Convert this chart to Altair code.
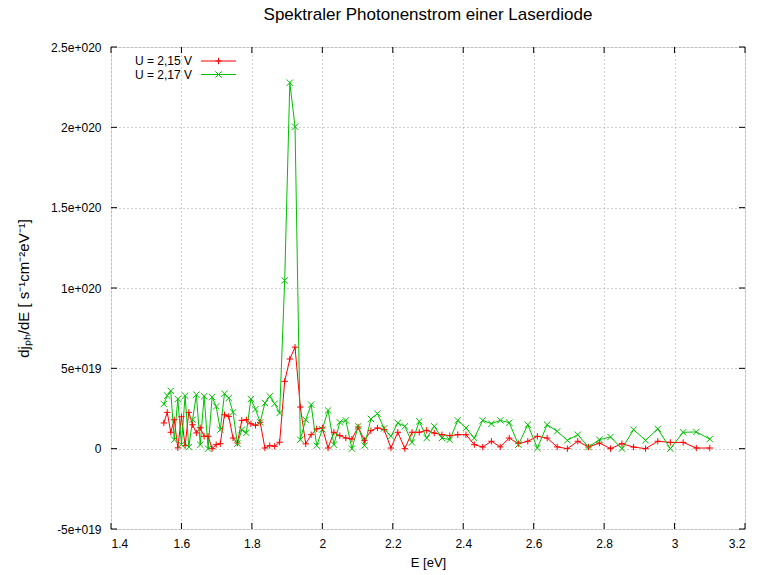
import altair as alt
import pandas as pd

# Photon energy E [eV] of each sample (wavelength 800 nm ... 400 nm)
energy_eV = [1.5500, 1.5597, 1.5696, 1.5796, 1.5897, 1.6000, 1.6104, 1.6209, 1.6316, 1.6424,
             1.6533, 1.6644, 1.6757, 1.6871, 1.6986, 1.7103, 1.7222, 1.7343, 1.7465, 1.7589,
             1.7714, 1.7842, 1.7971, 1.8102, 1.8235, 1.8370, 1.8507, 1.8647, 1.8788, 1.8931,
             1.9077, 1.9225, 1.9375, 1.9528, 1.9683, 1.9840, 2.0000, 2.0163, 2.0328, 2.0496,
             2.0667, 2.0840, 2.1017, 2.1197, 2.1379, 2.1565, 2.1754, 2.1947, 2.2143, 2.2342,
             2.2545, 2.2752, 2.2963, 2.3178, 2.3396, 2.3619, 2.3846, 2.4078, 2.4314, 2.4554,
             2.4800, 2.5051, 2.5306, 2.5567, 2.5833, 2.6105, 2.6383, 2.6667, 2.6957, 2.7253,
             2.7556, 2.7865, 2.8182, 2.8506, 2.8837, 2.9176, 2.9524, 2.9880, 3.0244, 3.0617,
             3.1000]

# dj_Ph/dE in units of 1e19 s^-1 cm^-2 eV^-1
u_215 = [1.60, 2.26, 1.02, 1.80, 0.05, 1.99, 0.19, 2.26, 1.49, 0.98,
         1.30, 0.77, 0.77, 0.00, 0.25, 0.31, 2.11, 2.01, 0.66, 0.35,
         1.76, 1.80, 1.55, 1.45, 1.64, 0.04, 0.19, 0.15, 0.40, 4.19,
         5.58, 6.32, 2.59, 0.30, 0.87, 1.23, 1.29, 0.04, 1.02, 0.81,
         0.66, 0.60, 1.35, 0.52, 1.12, 1.29, 1.19, 0.04, 1.02, 0.00,
         1.02, 1.02, 1.14, 0.97, 0.87, 0.81, 0.87, 0.87, 0.25, 0.10,
         0.46, 0.11, 0.66, 0.31, 0.46, 0.77, 0.66, 0.11, 0.00, 0.46,
         0.10, 0.35, 0.00, 0.31, 0.10, 0.00, 0.46, 0.39, 0.39, 0.04,
         0.04]

u_217 = [2.78, 3.30, 3.60, 0.56, 3.09, 0.25, 3.30, 0.10, 1.80, 3.36,
         0.25, 3.26, 0.00, 3.21, 2.63, 1.18, 3.42, 3.15, 2.26, 0.31,
         1.18, 0.98, 3.09, 2.46, 1.64, 2.84, 3.26, 2.80, 2.22, 10.47,
         22.78, 20.04, 0.56, 1.80, 2.74, 0.19, 1.20, 2.38, 0.25, 1.64,
         1.76, 0.00, 1.39, 0.19, 1.85, 2.18, 1.26, 0.77, 1.60, 1.39,
         0.39, 1.70, 0.66, 1.39, 0.66, 0.56, 1.76, 1.29, 0.66, 1.76,
         1.55, 1.76, 1.62, 0.25, 1.49, 0.04, 1.49, 1.08, 0.52, 0.87,
         0.10, 0.56, 0.73, 0.00, 1.18, 0.52, 1.23, 0.00, 1.02, 1.04,
         0.60]

series_labels = ["U = 2,15 V", "U = 2,17 V"]
series_colors = ["#ff0000", "#00c000"]

x_ticks = [1.4, 1.6, 1.8, 2.0, 2.2, 2.4, 2.6, 2.8, 3.0, 3.2]
x_tick_labels = ["1.4", "1.6", "1.8", "2", "2.2", "2.4", "2.6", "2.8", "3", "3.2"]
y_ticks = [-5e19, 0.0, 5e19, 1e20, 1.5e20, 2e20, 2.5e20]
y_tick_labels = ["-5e+019", "0", "5e+019", "1e+020", "1.5e+020", "2e+020", "2.5e+020"]

W, H = 634, 482
FONT = "Liberation Sans"
PLUS = "M-1,0H1M0,-1V1"
CROSS = "M-1,-1L1,1M1,-1L-1,1"

rows = []
for lab, vals in zip(series_labels, [u_215, u_217]):
    for e, v in zip(energy_eV, vals):
        rows.append({"E": e, "j": v * 1e19, "series": lab})
df = pd.DataFrame(rows)

xs = alt.Scale(domain=[1.4, 3.2], nice=False, zero=False)
ys = alt.Scale(domain=[-5e19, 2.5e20], nice=False, zero=False)

x_expr = "[" + ",".join(f"'{t}'" for t in x_tick_labels) + "][round((datum.value-1.4)/0.2)]"
y_expr = "[" + ",".join(f"'{t}'" for t in y_tick_labels) + "][round(datum.value/5e19)+1]"

axis_common = dict(grid=True, gridDash=[1, 3], gridColor="#a0a0a0", gridWidth=1,
                   ticks=False, domain=False, labelFont=FONT, labelFontSize=12,
                   labelColor="black", titleFont=FONT,
                   titleFontWeight="normal", titleColor="black")

x_axis = alt.Axis(values=x_ticks, labelExpr=x_expr, labelPadding=9, titlePadding=7,
                  title="E [eV]", titleFontSize=13, **axis_common)
y_axis = alt.Axis(values=y_ticks, labelExpr=y_expr, labelPadding=10, titlePadding=19,
                  title="djₚₕ/dE [ s⁻¹cm⁻²eV⁻¹]", titleFontSize=15, **axis_common)

color = alt.Color("series:N", scale=alt.Scale(domain=series_labels, range=series_colors), legend=None)

lines = alt.Chart(df).mark_line(strokeWidth=1).encode(
    x=alt.X("E:Q", scale=xs, axis=x_axis),
    y=alt.Y("j:Q", scale=ys, axis=y_axis),
    color=color,
    detail="series:N",
)

points = alt.Chart(df).mark_point(filled=False, strokeWidth=1, size=40, opacity=1).encode(
    x=alt.X("E:Q", scale=xs, axis=x_axis),
    y=alt.Y("j:Q", scale=ys, axis=y_axis),
    color=color,
    shape=alt.Shape("series:N", scale=alt.Scale(domain=series_labels, range=[PLUS, CROSS]), legend=None),
)

xt = pd.DataFrame({"v": x_ticks})
yt = pd.DataFrame({"v": y_ticks})
tick_layers = [
    alt.Chart(xt).mark_rule(color="black", strokeWidth=1).encode(
        x=alt.X("v:Q", scale=xs, axis=x_axis), y=alt.value(H), y2=alt.value(H - 6)),
    alt.Chart(xt).mark_rule(color="black", strokeWidth=1).encode(
        x=alt.X("v:Q", scale=xs, axis=x_axis), y=alt.value(0), y2=alt.value(6)),
    alt.Chart(yt).mark_rule(color="black", strokeWidth=1).encode(
        y=alt.Y("v:Q", scale=ys, axis=y_axis), x=alt.value(0), x2=alt.value(6)),
    alt.Chart(yt).mark_rule(color="black", strokeWidth=1).encode(
        y=alt.Y("v:Q", scale=ys, axis=y_axis), x=alt.value(W), x2=alt.value(W - 6)),
]

legend_layers = []
one = pd.DataFrame({"a": [0]})
for i, (lab, col, shp) in enumerate(zip(series_labels, series_colors, [PLUS, CROSS])):
    ly = 14 + i * 13.5
    legend_layers.append(alt.Chart(one).mark_text(align="right", baseline="middle", font=FONT,
                                                  fontSize=12, color="black").encode(
        x=alt.value(81), y=alt.value(ly), text=alt.value(lab)))
    legend_layers.append(alt.Chart(one).mark_rule(color=col, strokeWidth=1).encode(
        x=alt.value(90), x2=alt.value(125), y=alt.value(ly)))
    legend_layers.append(alt.Chart(one).mark_point(shape=shp, filled=False, strokeWidth=1,
                                                   size=40, color=col, opacity=1).encode(
        x=alt.value(107.5), y=alt.value(ly)))

chart = alt.layer(lines, *tick_layers, points, *legend_layers).properties(
    width=W, height=H,
    autosize="none",
    padding={"left": 111, "top": 47, "right": 12, "bottom": 46},
    title=alt.TitleParams("Spektraler Photonenstrom einer Laserdiode", font=FONT, fontSize=17,
                          fontWeight="normal", color="black", anchor="middle", offset=17),
).configure_view(stroke="black", strokeWidth=1).configure(background="white")

chart.save("out.html", embed_options={"renderer": "svg", "actions": False})
